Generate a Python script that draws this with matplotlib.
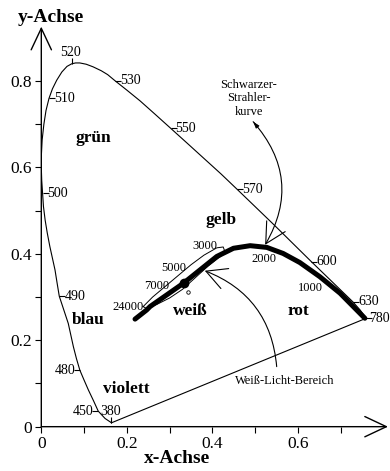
import numpy as np
import matplotlib
matplotlib.use('Agg')
import matplotlib.pyplot as plt
from matplotlib.lines import TICKLEFT, TICKRIGHT, TICKUP

plt.rcParams['font.family'] = 'Liberation Serif'

# Spektralfarbenzug, von 380 nm bis 780 nm
locus_x = [0.164, 0.149, 0.133, 0.122, 0.110, 0.099, 0.090, 0.082, 0.075, 0.069, 0.063,
           0.052, 0.042, 0.037, 0.032, 0.026, 0.020, 0.014, 0.009, 0.005, 0.003, 0.001,
           0.000, 0.000, 0.002, 0.006, 0.011, 0.018, 0.026, 0.036, 0.048, 0.060, 0.071,
           0.080, 0.090, 0.105, 0.121, 0.140, 0.155, 0.172, 0.200, 0.231, 0.265, 0.302,
           0.340, 0.380, 0.420, 0.457, 0.500, 0.545, 0.590, 0.631, 0.680, 0.728, 0.745,
           0.759]
locus_y = [0.009, 0.019, 0.036, 0.060, 0.085, 0.110, 0.131, 0.158, 0.185, 0.212, 0.239,
           0.272, 0.302, 0.332, 0.363, 0.390, 0.417, 0.448, 0.478, 0.510, 0.540, 0.570,
           0.600, 0.625, 0.664, 0.700, 0.732, 0.760, 0.782, 0.802, 0.821, 0.834, 0.840,
           0.842, 0.842, 0.839, 0.833, 0.824, 0.815, 0.801, 0.779, 0.754, 0.724, 0.691,
           0.657, 0.621, 0.585, 0.550, 0.509, 0.466, 0.422, 0.382, 0.335, 0.289, 0.270,
           0.251]

# beschriftete Wellenlaengen (nm)
wl_labels = ['380', '450', '480', '490', '500', '510', '520', '530', '550', '570', '600', '630', '780']
wl_x = [0.164, 0.133, 0.090, 0.042, 0.003, 0.018, 0.071, 0.172, 0.302, 0.457, 0.631, 0.728, 0.759]
wl_y = [0.009, 0.036, 0.131, 0.302, 0.540, 0.760, 0.840, 0.801, 0.691, 0.550, 0.382, 0.289, 0.251]
wl_side = ['up', 'left', 'left', 'right', 'right', 'right', 'up', 'right', 'right', 'right',
           'right', 'right', 'right']

# Schwarzer-Strahler-Kurve
planck_x = [0.219, 0.246, 0.254, 0.293, 0.332, 0.371, 0.410, 0.449, 0.488, 0.527,
            0.565, 0.604, 0.651, 0.698, 0.737, 0.756]
planck_y = [0.249, 0.270, 0.278, 0.305, 0.332, 0.363, 0.394, 0.413, 0.419, 0.415,
            0.401, 0.380, 0.347, 0.309, 0.270, 0.251]

temp_labels = ['24000', '7000', '5000', '3000', '2000', '1000']
temp_x = [0.203, 0.270, 0.310, 0.382, 0.521, 0.629]
temp_y = [0.277, 0.325, 0.367, 0.418, 0.388, 0.320]

# Weiss-Licht-Bereich um die Kurve
white_x = [0.238, 0.260, 0.290, 0.320, 0.350, 0.380, 0.410, 0.425, 0.428,
           0.420, 0.390, 0.360, 0.330, 0.300, 0.270, 0.245, 0.238]
white_y = [0.278, 0.300, 0.325, 0.350, 0.375, 0.397, 0.414, 0.416, 0.408,
           0.395, 0.372, 0.345, 0.318, 0.298, 0.283, 0.274, 0.278]

white_point = (1 / 3, 1 / 3)
small_point = (0.343, 0.312)

color_names = ['grün', 'gelb', 'blau', 'weiß', 'rot', 'violett']
color_x = [0.121, 0.420, 0.110, 0.347, 0.600, 0.198]
color_y = [0.668, 0.478, 0.247, 0.268, 0.268, 0.087]

fig = plt.figure(figsize=(3.9, 4.71), dpi=100)
ax = fig.add_axes([0.1059, 0.0941, 0.8889, 0.8493])
ax.set_xlim(0, 0.81)
ax.set_ylim(0, 0.926)
for s in ax.spines.values():
    s.set_visible(False)

# Achsen mit offenen Pfeilspitzen
head = '->,head_length=15.5,head_width=7.3'
ax.annotate('', xy=(1, 0), xytext=(0, 0), xycoords='axes fraction',
            arrowprops=dict(arrowstyle=head, lw=1.0, color='k', mutation_scale=1,
                            shrinkA=0, shrinkB=0))
ax.annotate('', xy=(0, 1), xytext=(0, 0), xycoords='axes fraction',
            arrowprops=dict(arrowstyle=head, lw=1.0, color='k', mutation_scale=1,
                            shrinkA=0, shrinkB=0))

ax.set_xticks(np.arange(0, 0.75, 0.1))
ax.set_xticklabels(['0', '', '0.2', '', '0.4', '', '0.6', ''])
ax.set_yticks(np.arange(0, 0.85, 0.1))
ax.set_yticklabels(['0', '', '0.2', '', '0.4', '', '0.6', '', '0.8'])
ax.tick_params(direction='out', length=4, width=0.8, labelsize=12.5, pad=3)

fig.text(50.5 / 390, 1 - 18 / 471, 'y-Achse', fontsize=14, fontweight='bold',
         ha='center', va='center')
fig.text(177.5 / 390, 1 - 458.5 / 471, 'x-Achse', fontsize=14, fontweight='bold',
         ha='center', va='center')

# Spektralfarbenzug und Purpurlinie
ax.plot(locus_x, locus_y, color='k', lw=0.8)
ax.plot([locus_x[-1], locus_x[0]], [locus_y[-1], locus_y[0]], color='k', lw=0.8)

for lab, x, y, side in zip(wl_labels, wl_x, wl_y, wl_side):
    if side == 'right':
        ax.plot(x, y, marker=TICKRIGHT, ms=4, mew=0.8, color='k')
        dx = 2.5 if lab == '780' else 3.6
        ax.annotate(lab, (x, y), xytext=(dx, 0), textcoords='offset points',
                    ha='left', va='center', fontsize=10)
    elif side == 'left':
        ax.plot(x, y, marker=TICKLEFT, ms=4, mew=0.8, color='k')
        ax.annotate(lab, (x, y), xytext=(-3.2, 0), textcoords='offset points',
                    ha='right', va='center', fontsize=10)
    else:
        ax.plot(x, y, marker=TICKUP, ms=4, mew=0.8, color='k')
        ax.annotate(lab, (x, y), xytext=(-1, 8), textcoords='offset points',
                    ha='center', va='center', fontsize=10)

# Schwarzer-Strahler-Kurve
ax.plot(planck_x, planck_y, color='k', lw=3.6, solid_capstyle='round')
ax.plot(white_x, white_y, color='k', lw=0.7)
ax.plot(*white_point, 'o', color='k', ms=6)
ax.plot(*small_point, 'o', mfc='white', mec='k', ms=2.5, mew=0.6)

for lab, x, y in zip(temp_labels, temp_x, temp_y):
    ax.text(x, y, lab, fontsize=9, ha='center', va='center')

for name, x, y in zip(color_names, color_x, color_y):
    ax.text(x, y, name, fontsize=12.5, fontweight='bold', ha='center', va='center')

ax.text(0.484, 0.760, 'Schwarzer-\nStrahler-\nkurve', fontsize=9, ha='center',
        va='center', linespacing=1.15)
ax.annotate('', xy=(0.523, 0.421), xytext=(0.495, 0.706),
            arrowprops=dict(arrowstyle='->,head_length=14.6,head_width=7.7',
                            connectionstyle='arc3,rad=-0.36', lw=0.8, color='k',
                            mutation_scale=1, shrinkA=0, shrinkB=0))
# kleine Spitze am Anfang des Pfeils
ax.annotate('', xy=(0.495, 0.706), xytext=(0.505, 0.694),
            arrowprops=dict(arrowstyle='-|>,head_length=4,head_width=1.3', lw=0.6,
                            color='k', mutation_scale=1, shrinkA=0, shrinkB=0))

ax.text(0.569, 0.106, 'Weiß-Licht-Bereich', fontsize=9, ha='center', va='center')
ax.annotate('', xy=(0.382, 0.361), xytext=(0.550, 0.139),
            arrowprops=dict(arrowstyle='->,head_length=14.6,head_width=7.7',
                            connectionstyle='arc3,rad=0.31', lw=0.8, color='k',
                            mutation_scale=1, shrinkA=0, shrinkB=0))

fig.savefig('out.png', dpi=100)
